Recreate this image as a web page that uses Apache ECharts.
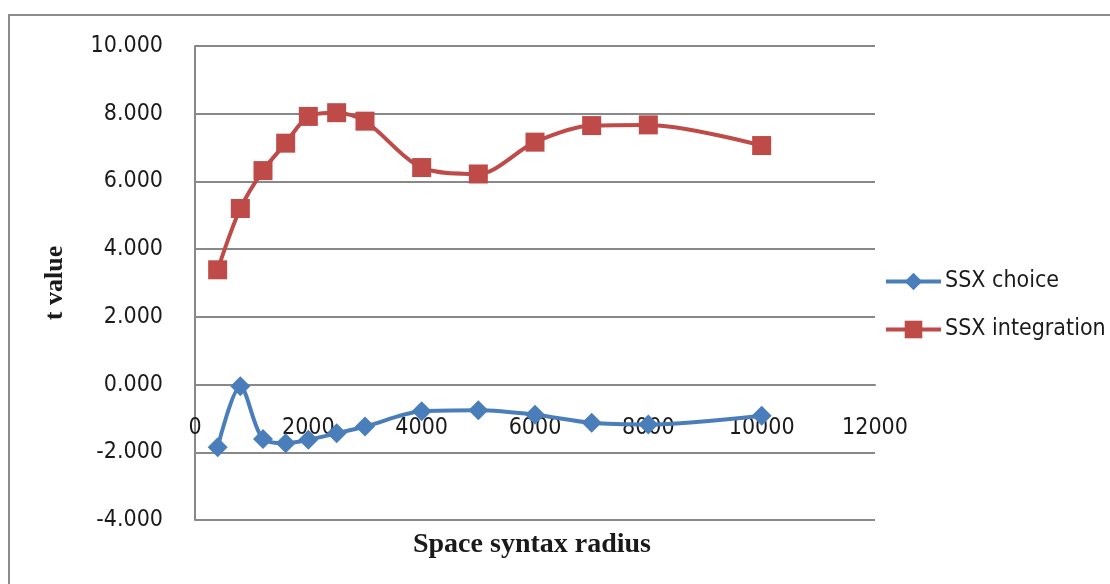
<!DOCTYPE html>
<html>
<head>
<meta charset="utf-8">
<script src="https://cdn.jsdelivr.net/npm/echarts@6/dist/echarts.min.js"></script>
<style>
html,body{margin:0;padding:0;background:#fff;}
#chart{width:1110px;height:584px;}
</style>
</head>
<body>
<div id="chart"></div>
<script>
const radius = [400, 800, 1200, 1600, 2000, 2500, 3000, 4000, 5000, 6000, 7000, 8000, 10000];
const ssxChoice = [-1.85, -0.05, -1.61, -1.73, -1.63, -1.44, -1.24, -0.79, -0.76, -0.89, -1.13, -1.18, -0.92];
const ssxIntegration = [3.39, 5.20, 6.32, 7.13, 7.92, 8.03, 7.78, 6.41, 6.22, 7.16, 7.65, 7.67, 7.06];
const seriesNames = ['SSX choice', 'SSX integration'];
const xTitle = 'Space syntax radius';
const yTitle = 't value';
const yMin = -4, yMax = 10;

const labelFont = '"Liberation Sans Narrow","DejaVu Sans Condensed","Liberation Sans",sans-serif';
const titleFont = '"Liberation Serif","DejaVu Serif",serif';

const W = 1110, H = 584;
const gridTop = 46, gridBottom = 64;
const plotH = H - gridTop - gridBottom;
// x axis crosses the y axis at 0 (Excel style)
const xAxisOffset = -plotH * (0 - yMin) / (yMax - yMin);

const chart = echarts.init(document.getElementById('chart'), null, {renderer: 'canvas'});
chart.setOption({
  animation: false,
  backgroundColor: '#fff',
  graphic: [{
    type: 'rect',
    shape: {x: 9, y: 15, width: 1200, height: 700},
    style: {fill: 'none', stroke: '#8c8c8c', lineWidth: 2},
    silent: true
  }, {
    type: 'text',
    x: 532, y: 545,
    style: {text: xTitle, fontFamily: titleFont, fontWeight: 'bold', fontSize: 28, fill: '#1a1a1a', align: 'center', verticalAlign: 'middle'}
  }, {
    type: 'text',
    x: 55, y: 283,
    rotation: Math.PI / 2,
    style: {text: yTitle, fontFamily: titleFont, fontWeight: 'bold', fontSize: 26, fill: '#1a1a1a', align: 'center', verticalAlign: 'middle'}
  }],
  grid: {left: 195, top: gridTop, right: 235, bottom: gridBottom, containLabel: false},
  legend: {
    orient: 'vertical',
    left: 884, top: 270,
    padding: 0,
    itemWidth: 55, itemHeight: 22,
    itemGap: 25,
    lineStyle: {width: 4},
    textStyle: {fontFamily: labelFont, fontSize: 23, color: '#1a1a1a', padding: [0,0,0,-1]},
    data: seriesNames
  },
  xAxis: {
    type: 'value',
    min: 0, max: 12000, interval: 2000,
    offset: xAxisOffset,
    axisLine: {onZero: false, lineStyle: {color: '#888', width: 2}},
    axisTick: {show: false},
    splitLine: {show: false},
    axisLabel: {margin: 32, fontFamily: labelFont, fontSize: 23, color: '#1a1a1a',
      formatter: v => String(v)}
  },
  yAxis: {
    type: 'value',
    min: yMin, max: yMax, interval: 2,
    axisLine: {show: true, onZero: false, lineStyle: {color: '#888', width: 2}},
    axisTick: {show: false},
    splitLine: {lineStyle: {color: '#888', width: 2}},
    axisLabel: {margin: 32, fontFamily: labelFont, fontSize: 23, color: '#1a1a1a',
      formatter: v => v.toFixed(3)}
  },
  series: [{
    name: seriesNames[0],
    type: 'line',
    smooth: 0.3,
    data: radius.map((r, i) => [r, ssxChoice[i]]),
    symbol: 'diamond',
    symbolSize: 20,
    lineStyle: {color: '#4a7ebb', width: 4},
    itemStyle: {color: '#4a7ebb'}
  }, {
    name: seriesNames[1],
    type: 'line',
    smooth: 0.3,
    data: radius.map((r, i) => [r, ssxIntegration[i]]),
    symbol: 'rect',
    symbolSize: 19,
    lineStyle: {color: '#be4b48', width: 4},
    itemStyle: {color: '#be4b48'}
  }]
});
</script>
</body>
</html>
